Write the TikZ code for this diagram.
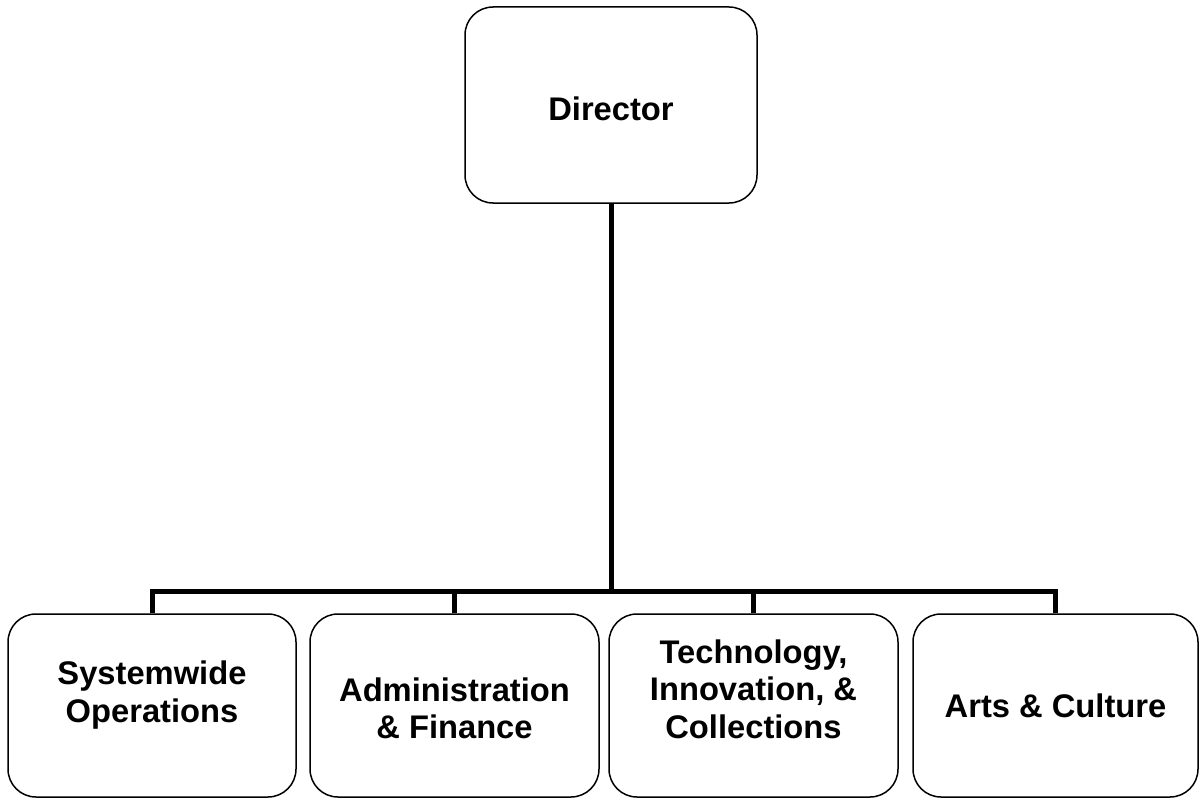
\documentclass[tikz,border=0pt]{standalone}
\usepackage{fontspec}
\setmainfont{Liberation Sans}
\begin{document}
\begin{tikzpicture}[x=1pt,y=-1pt,
  box/.style={draw, line width=1.5pt, rounded corners=28pt, inner sep=0pt},
  lbl/.style={font=\fontsize{32.7}{37.5}\selectfont\bfseries, align=center, inner sep=0pt},
  conn/.style={line width=5pt}]
\useasboundingbox (0,0) rectangle (1200,800);
\node[box, minimum width=292pt, minimum height=196pt] (dir) at (611,105) {};
\node[box, minimum width=288pt, minimum height=183pt] (b1) at (152,705.5) {};
\node[box, minimum width=289pt, minimum height=183pt] (b2) at (454.5,705.5) {};
\node[box, minimum width=289pt, minimum height=183pt] (b3) at (753.5,705.5) {};
\node[box, minimum width=285pt, minimum height=183pt] (b4) at (1055.5,705.5) {};
\node[lbl] (tdir) at (611,109) {Director};
\node[lbl] (t1) at (152,695) {Systemwide\\Operations};
\node[lbl] (t2) at (454.5,708.5) {Administration\\\& Finance};
\node[lbl] (t3) at (753.5,689) {Technology,\\Innovation, \&\\Collections};
\node[lbl] (t4) at (1055.5,706) {Arts \& Culture};
\coordinate (j) at (611,591);
\draw[conn] (dir.south) -- (j);
\draw[conn] (b1.north) |- (j);
\draw[conn] (b2.north) |- (j);
\draw[conn] (b3.north) |- (j);
\draw[conn] (b4.north) |- (j);
\end{tikzpicture}
\end{document}
